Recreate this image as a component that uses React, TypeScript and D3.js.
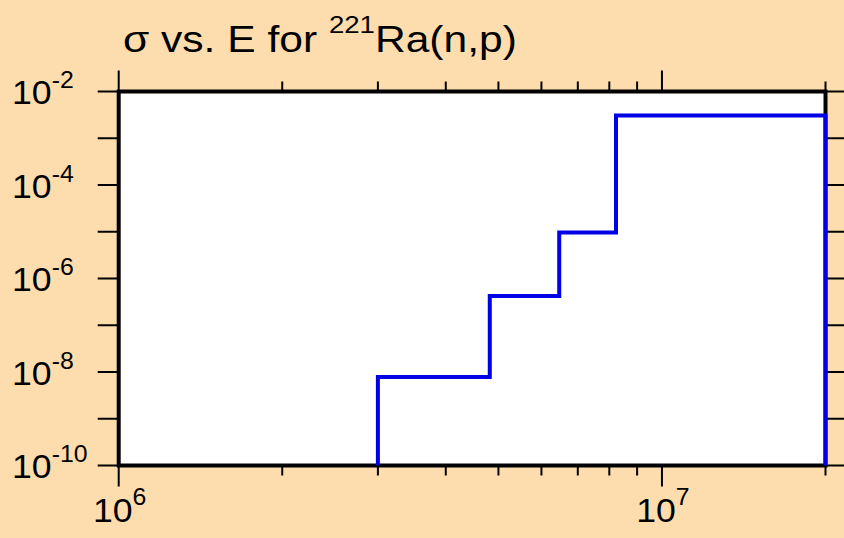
import React from "react";
import * as d3 from "d3";

const energies = [3.0e6, 4.82e6, 6.47e6, 8.23e6, 2.0e7];
const sigmas = [7.8e-9, 4.2e-7, 9.6e-6, 3.06e-3];
const xDomain = [1e6, 2e7];
const yDomain = [1e-10, 1e-2];
const yLabelExps = [-2, -4, -6, -8, -10];
const xLabelExps = [6, 7];
const titleMain = "σ vs. E for ";
const titleSup = "221";
const titleRest = "Ra(n,p)";

const W = 844;
const H = 538;
const L = 118.7, R = 825.5, T = 91.5, B = 465.5;
const FONT = "'Liberation Sans', Arial, sans-serif";

export default function App() {
  const x = d3.scaleLog().domain(xDomain).range([L, R]);
  const y = d3.scaleLog().domain(yDomain).range([B, T]);

  const pts: [number, number][] = [];
  pts.push([energies[0], yDomain[0]]);
  sigmas.forEach((s, i) => {
    pts.push([energies[i], s]);
    pts.push([energies[i + 1], s]);
  });
  pts.push([energies[energies.length - 1], yDomain[0]]);
  const line = d3.line<[number, number]>().x((d) => x(d[0])).y((d) => y(d[1]));

  const xTicks: { v: number; major: boolean }[] = [];
  for (let dec = 1e6; dec <= 1e7; dec *= 10) {
    for (let m = 1; m <= 9; m++) {
      const v = m * dec;
      if (v >= xDomain[0] && v <= xDomain[1] * 1.0001) xTicks.push({ v, major: m === 1 });
    }
  }
  xTicks.push({ v: 2e7, major: false });
  const uniqX = xTicks.filter((t, i, a) => a.findIndex((u) => Math.abs(u.v - t.v) < 1) === i);

  const yTicks = d3.range(-10, -1).map((e) => Math.pow(10, e));

  const labelSize = 33;
  const supSize = 23;
  const sx = 1.08;

  return (
    <svg width={W} height={H} style={{ position: "absolute", left: 0, top: 0, display: "block" }} fontFamily={FONT}>
      <rect x={0} y={0} width={W} height={H} fill="#FDDDAD" />
      <rect x={L} y={T} width={R - L} height={B - T} fill="#ffffff" />
      {uniqX.map((t, i) => {
        const xx = x(t.v);
        const len = t.major ? 21 : 10;
        return (
          <g key={"xt" + i} stroke="#000" strokeWidth={2}>
            <line x1={xx} x2={xx} y1={T} y2={T - len} />
            <line x1={xx} x2={xx} y1={B} y2={B + len} />
          </g>
        );
      })}
      {yTicks.map((v, i) => {
        const yy = y(v);
        return (
          <g key={"yt" + i} stroke="#000" strokeWidth={2}>
            <line x1={L} x2={L - 21} y1={yy} y2={yy} />
            <line x1={R} x2={R + 21} y1={yy} y2={yy} />
          </g>
        );
      })}
      <rect x={L} y={T} width={R - L} height={B - T} fill="none" stroke="#000" strokeWidth={4} />
      <path d={line(pts) || ""} fill="none" stroke="#0000E6" strokeWidth={4} strokeLinejoin="miter" />
      {yLabelExps.map((e) => (
        <g key={"yl" + e} transform={`translate(12,${y(Math.pow(10, e)) + 12.5}) scale(${sx},1)`}>
          <text x={0} y={0} fontSize={labelSize} fill="#000">
            10<tspan dy={-16} fontSize={supSize}>{String(e)}</tspan>
          </text>
        </g>
      ))}
      {xLabelExps.map((e) => (
        <g key={"xl" + e} transform={`translate(${x(Math.pow(10, e)) + 1},521.5) scale(${sx},1)`}>
          <text x={0} y={0} fontSize={labelSize} textAnchor="middle" fill="#000">
            10<tspan dy={-17} fontSize={supSize}>{String(e)}</tspan>
          </text>
        </g>
      ))}
      <g transform="translate(123,52) scale(1.15,1)">
        <text x={0} y={0} fontSize={37} fill="#000">
          {titleMain}
          <tspan dy={-19} fontSize={24}>{titleSup}</tspan>
          <tspan dy={19}>{titleRest}</tspan>
        </text>
      </g>
    </svg>
  );
}
